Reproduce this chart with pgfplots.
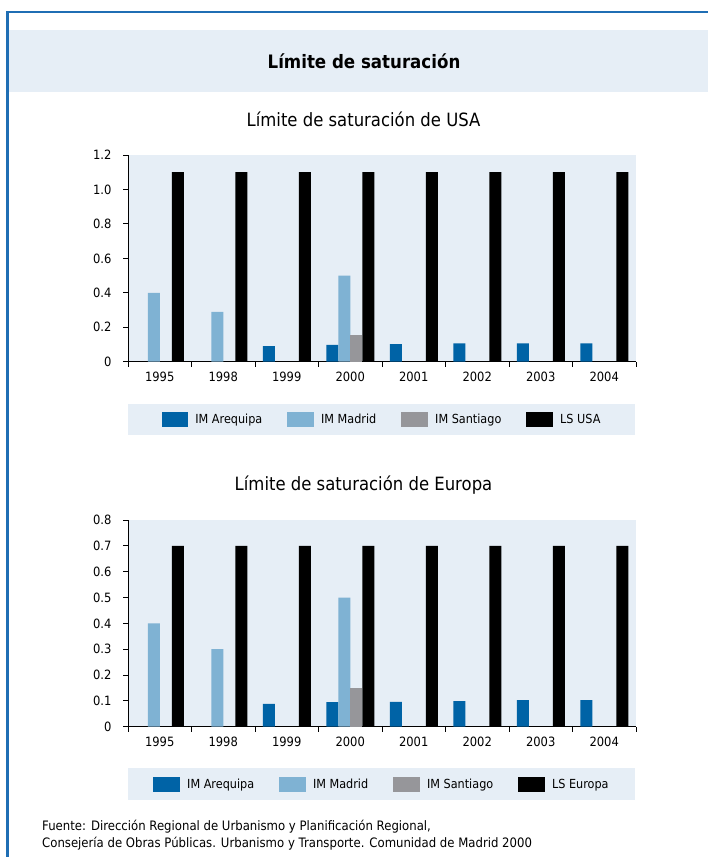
\documentclass[border=0pt]{standalone}
\usepackage{pgfplots}
\pgfplotsset{compat=1.18}
\usepackage{fontspec}
\setmainfont{DejaVu Sans}[FakeStretch=0.9]

\definecolor{arequipa}{RGB}{0,99,166}
\definecolor{madrid}{RGB}{127,178,211}
\definecolor{santiago}{RGB}{150,150,154}
\definecolor{panel}{RGB}{230,238,246}
\definecolor{frameblue}{RGB}{31,110,180}

\pgfplotsset{
  satchart/.style={
    scale only axis, width=508pt, height=206.7pt,
    xmin=-0.5, xmax=7.5, ymin=0,
    enlargelimits=false,
    ybar=0pt, bar width=12pt,
    axis x line*=bottom, axis y line*=left,
    axis line style={-, line width=1pt, black},
    axis background/.style={fill=panel},
    tick align=outside,
    major tick length=5pt, minor tick length=5pt,
    xtick={0,...,7},
    xticklabels={1995,1998,1999,2000,2001,2002,2003,2004},
    major x tick style={draw=none},
    minor xtick={-0.5,0.5,...,7.5},
    minor x tick style={draw=black, line width=1pt},
    major y tick style={draw=black, line width=1pt},
    tick label style={font=\fontsize{12.8}{15}\selectfont},
    yticklabel style={xshift=-8pt},
    xticklabel style={yshift=-2pt},
    legend columns=4,
    legend style={draw=none, fill=none,
      at={(axis description cs:0.5,0)}, anchor=center,
      yshift=-58pt,
      font=\fontsize{12.5}{15}\selectfont,
      /tikz/every odd column/.append style={column sep=5pt},
      /tikz/every even column/.append style={column sep=23pt}},
    legend image code/.code={
      \fill[##1, draw=none] (0pt,-7.3pt) rectangle (26.8pt,7.3pt);},
  },
}

\begin{document}
\begin{tikzpicture}
\path[use as bounding box] (0pt,0pt) rectangle (708pt,-857pt);

% page frame and heading band
\fill[frameblue] (6pt,-10.5pt) rectangle (708pt,-13pt);
\fill[frameblue] (6pt,-10.5pt) rectangle (8.5pt,-857pt);
\fill[panel] (8.5pt,-30pt) rectangle (708pt,-92pt);
\node[font=\fontsize{18.5}{22}\selectfont\bfseries] at (364pt,-61pt)
  {Límite de saturación};

% ---------------- USA ----------------
\node[anchor=base, font=\fontsize{18.3}{22}\selectfont] at (363.5pt,-126.7pt)
  {Límite de saturación de USA};
\fill[panel] (128pt,-403.5pt) rectangle (635pt,-435pt);
\begin{axis}[satchart,
  at={(128pt,-361.7pt)}, anchor=south west,
  ymax=1.2,
  ytick={0,0.2,0.4,0.6,0.8,1.0,1.2},
  yticklabels={0,0.2,0.4,0.6,0.8,1.0,1.2},
]
\addplot[fill=arequipa, draw=none]
  coordinates {(2,0.090) (3,0.097) (4,0.102) (5,0.107) (6,0.107) (7,0.107)};
\addplot[fill=madrid, draw=none]
  coordinates {(0,0.40) (1,0.29) (3,0.50)};
\addplot[fill=santiago, draw=none]
  coordinates {(3,0.155)};
\addplot[fill=black, draw=none]
  coordinates {(0,1.1) (1,1.1) (2,1.1) (3,1.1) (4,1.1) (5,1.1) (6,1.1) (7,1.1)};
\legend{IM Arequipa, IM Madrid, IM Santiago, LS USA}
\end{axis}

% ---------------- Europa ----------------
\node[anchor=base, font=\fontsize{18.3}{22}\selectfont] at (363.5pt,-490pt)
  {Límite de saturación de Europa};
\fill[panel] (128pt,-768pt) rectangle (635pt,-799.5pt);
\begin{axis}[satchart,
  at={(128pt,-726.7pt)}, anchor=south west,
  ymax=0.8,
  ytick={0,0.1,0.2,0.3,0.4,0.5,0.6,0.7,0.8},
  yticklabels={0,0.1,0.2,0.3,0.4,0.5,0.6,0.7,0.8},
]
\addplot[fill=arequipa, draw=none]
  coordinates {(2,0.088) (3,0.095) (4,0.096) (5,0.099) (6,0.103) (7,0.103)};
\addplot[fill=madrid, draw=none]
  coordinates {(0,0.40) (1,0.30) (3,0.50)};
\addplot[fill=santiago, draw=none]
  coordinates {(3,0.149)};
\addplot[fill=black, draw=none]
  coordinates {(0,0.7) (1,0.7) (2,0.7) (3,0.7) (4,0.7) (5,0.7) (6,0.7) (7,0.7)};
\legend{IM Arequipa, IM Madrid, IM Santiago, LS Europa}
\end{axis}

% source note
\node[anchor=base west, inner sep=0pt, font=\fontsize{13}{15}\selectfont] at (42pt,-830.5pt)
  {Fuente: Dirección Regional de Urbanismo y Planificación Regional,};
\node[anchor=base west, inner sep=0pt, font=\fontsize{13}{15}\selectfont] at (42pt,-847.5pt)
  {Consejería de Obras Públicas. Urbanismo y Transporte. Comunidad de Madrid 2000};
\end{tikzpicture}
\end{document}
